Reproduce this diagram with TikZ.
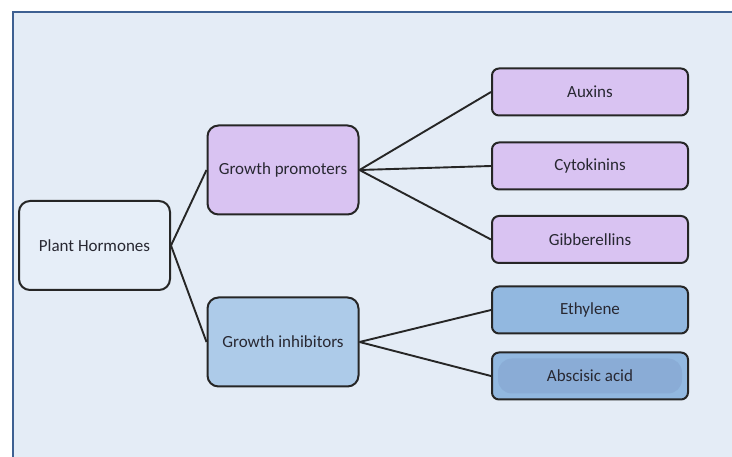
\documentclass[tikz,border=0pt]{standalone}
\usepackage{fontspec}
\setmainfont{Carlito}
\definecolor{panelbg}{RGB}{228,236,246}
\definecolor{panelline}{RGB}{62,96,146}
\definecolor{rootfill}{RGB}{230,238,248}
\definecolor{purp}{RGB}{217,195,242}
\definecolor{lblue}{RGB}{173,203,233}
\definecolor{mblue}{RGB}{146,184,224}
\definecolor{dblue}{RGB}{138,172,214}
\definecolor{txt}{RGB}{40,40,50}
\begin{document}
\begin{tikzpicture}[x=1pt,y=-1pt,
  lbl/.style={font=\fontsize{17}{19}\selectfont,text=txt},
  box/.style={lbl,draw=black!85,line width=2pt,rounded corners=11pt,inner sep=0pt},
  small/.style={box,rounded corners=7pt,minimum width=196pt,minimum height=47pt},
  big/.style={box,minimum width=151pt,minimum height=89pt},
  link/.style={line width=1.9pt,draw=black!85}]
\useasboundingbox (0,0) rectangle (732,457);
\fill[white] (0,0) rectangle (732,457);
\begin{scope}
\clip (0,0) rectangle (732,457);
\draw[line width=2.5pt, fill=panelbg, draw=panelline] (13,12) rectangle (760,480);
\end{scope}
\node[big, fill=rootfill] (ph) at (94.5,245.5) {Plant Hormones};
\node[big, fill=purp] (gp) at (283,170) {Growth promoters};
\node[big, fill=lblue] (gi) at (283,342) {Growth inhibitors};
\node[small, fill=purp] (au) at (590,92) {Auxins};
\node[small, fill=purp] (cy) at (590,166) {Cytokinins};
\node[small, fill=purp] (gb) at (590,239.5) {Gibberellins};
\node[small, fill=mblue] (et) at (590,310) {Ethylene};
\node[small, fill=mblue] (ab) at (590,376) {};
\fill[dblue, rounded corners=14pt]
  ([xshift=7pt,yshift=7pt]ab.south west) rectangle ([xshift=-7pt,yshift=-7pt]ab.north east);
\node[lbl] (abt) at (ab.center) {Abscisic acid};
\draw[link] (ph.east) -- (gp.west);
\draw[link] (ph.east) -- (gi.west);
\draw[link] (gp.east) -- (au.west);
\draw[link] (gp.east) -- (cy.west);
\draw[link] (gp.east) -- (gb.west);
\draw[link] (gi.east) -- (et.west);
\draw[link] (gi.east) -- (ab.west);
\end{tikzpicture}
\end{document}
